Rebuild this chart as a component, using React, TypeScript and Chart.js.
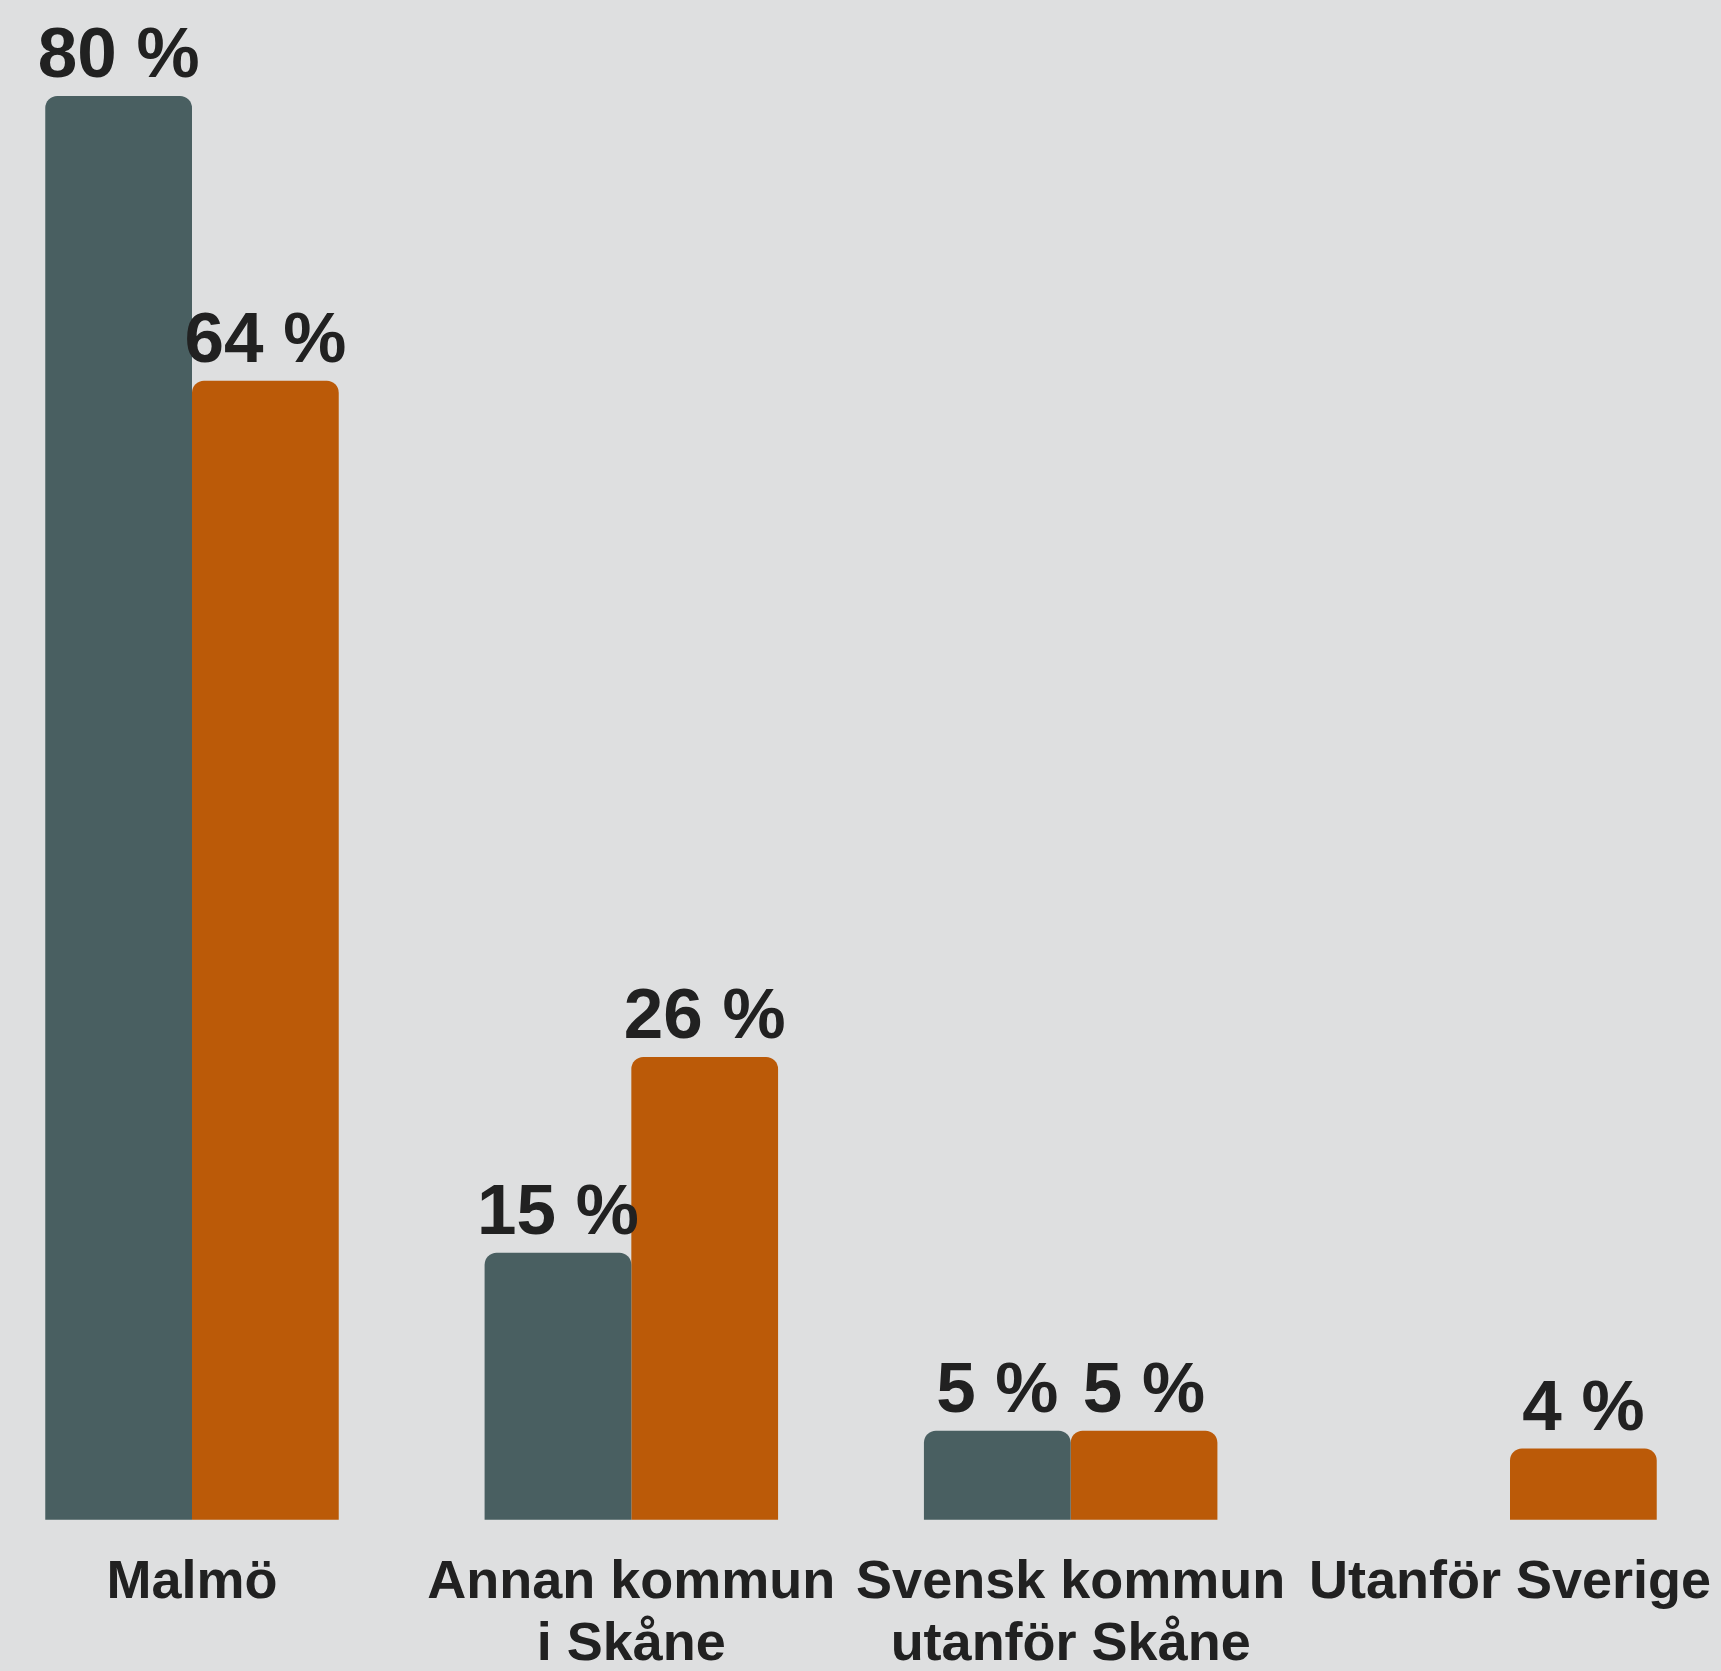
import React, { useEffect, useRef } from "react";
import { Chart, registerables } from "chart.js";

Chart.register(...registerables);

const categories: string[][] = [
  ["Malmö"],
  ["Annan kommun", "i Skåne"],
  ["Svensk kommun", "utanför Skåne"],
  ["Utanför Sverige"],
];
const seriesNames = ["Serie 1", "Serie 2"];
const seriesA: (number | null)[] = [80, 15, 5, null];
const seriesB: (number | null)[] = [64, 26, 5, 4];
const colors = ["#495f61", "#bb5a08"];
const valueSuffix = " %";

const FONT = "'Liberation Sans', Arial, Helvetica, sans-serif";
const TEXT = "#212121";
const BG = "#dedfe0";

const valueLabels = {
  id: "valueLabels",
  afterDatasetsDraw(chart: any) {
    const ctx = chart.ctx;
    ctx.save();
    ctx.font = `bold 71px ${FONT}`;
    ctx.fillStyle = TEXT;
    ctx.textAlign = "center";
    ctx.textBaseline = "alphabetic";
    chart.data.datasets.forEach((ds: any, di: number) => {
      const meta = chart.getDatasetMeta(di);
      meta.data.forEach((el: any, i: number) => {
        const v = ds.data[i];
        if (v === null || v === undefined) return;
        ctx.fillText(`${v}${valueSuffix}`, el.x, el.y - 19);
      });
    });
    ctx.restore();
  },
};

export default function App() {
  const ref = useRef<HTMLCanvasElement | null>(null);

  useEffect(() => {
    if (!ref.current) return;
    const chart = new Chart(ref.current, {
      type: "bar",
      data: {
        labels: categories,
        datasets: [
          {
            label: seriesNames[0],
            data: seriesA,
            backgroundColor: colors[0],
            borderRadius: 12,
            borderSkipped: "start",
          },
          {
            label: seriesNames[1],
            data: seriesB,
            backgroundColor: colors[1],
            borderRadius: 12,
            borderSkipped: "start",
          },
        ],
      },
      options: {
        responsive: false,
        animation: false,
        devicePixelRatio: 1,
        layout: { padding: { left: 192, right: 211, top: 96, bottom: 0 } },
        datasets: {
          bar: { categoryPercentage: 0.668, barPercentage: 1, clip: false as any },
        },
        plugins: {
          legend: { display: false },
          tooltip: { enabled: false },
          title: { display: false },
        },
        scales: {
          x: {
            offset: false,
            grid: { display: false, drawTicks: false },
            border: { display: false },
            afterFit(scale: any) {
              scale.paddingLeft = 0;
              scale.paddingRight = 0;
            },
            ticks: {
              autoSkip: false,
              maxRotation: 0,
              minRotation: 0,
              padding: 32,
              color: TEXT,
              font: { family: FONT, size: 54, weight: "bold", lineHeight: 1.15 },
            },
          },
          y: {
            display: false,
            min: 0,
            max: 80,
          },
        },
      },
      plugins: [valueLabels],
    });
    return () => chart.destroy();
  }, []);

  return (
    <div
      style={{
        position: "fixed",
        left: 0,
        top: 0,
        width: 1721,
        height: 1671,
        overflow: "hidden",
        background: BG,
      }}
    >
      <canvas ref={ref} width={1721} height={1708} style={{ display: "block" }} />
    </div>
  );
}
